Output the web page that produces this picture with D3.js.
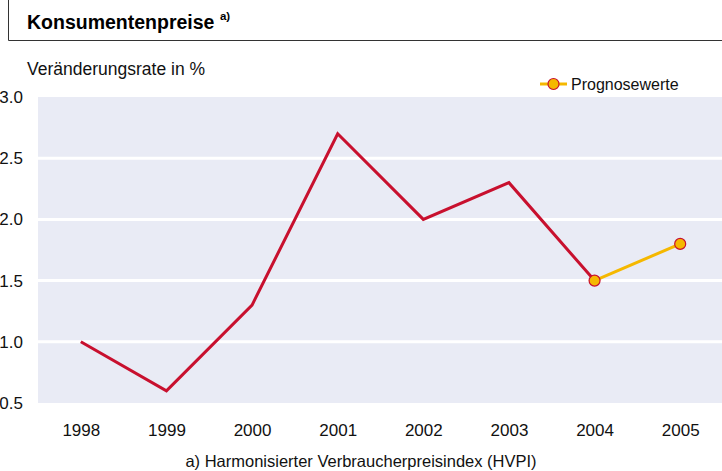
<!DOCTYPE html>
<html>
<head>
<meta charset="utf-8">
<script src="https://cdn.jsdelivr.net/npm/d3@7"></script>
<style>
  html, body { margin: 0; padding: 0; background: #fff; }
  svg { display: block; }
</style>
</head>
<body>
<svg id="chart" width="722" height="471"></svg>
<script>
// Consumer prices (HICP), annual rate of change in %
const years = ["1998", "1999", "2000", "2001", "2002", "2003", "2004", "2005"];
const actualYears = ["1998", "1999", "2000", "2001", "2002", "2003", "2004"];
const actualValues = [1.0, 0.6, 1.3, 2.7, 2.0, 2.3, 1.5];
const forecastYears = ["2004", "2005"];
const forecastValues = [1.5, 1.8];
const yTicks = [0.5, 1.0, 1.5, 2.0, 2.5, 3.0];

const svg = d3.select("#chart");
const W = 722, H = 471;
const plot = { left: 38, right: 722, top: 97, bottom: 403 };

const x = d3.scalePoint().domain(years).range([plot.left, plot.right + 1]).padding(0.5);
const y = d3.scaleLinear().domain([0.5, 3.0]).range([plot.bottom, plot.top]);

const red = "#c8102e";
const gold = "#f5b800";
const font = "'Liberation Sans', Arial, sans-serif";

// Title box
svg.append("path")
  .attr("d", `M8.5,0 V40.5 H${W}`)
  .attr("fill", "none").attr("stroke", "#333").attr("stroke-width", 1);
const title = svg.append("text")
  .attr("x", 27).attr("y", 29)
  .attr("font-family", font).attr("font-weight", "bold").attr("font-size", 19.5)
  .attr("fill", "#000");
title.append("tspan").text("Konsumentenpreise ");
title.append("tspan").attr("font-size", 11.5).attr("dy", -9).text("a)");

// Axis caption
svg.append("text")
  .attr("x", 27).attr("y", 75)
  .attr("font-family", font).attr("font-size", 17.5).attr("fill", "#111")
  .text("Veränderungsrate in %");

// Plot background
svg.append("rect")
  .attr("x", plot.left).attr("y", plot.top)
  .attr("width", plot.right - plot.left).attr("height", plot.bottom - plot.top)
  .attr("fill", "#e9ebf5");

// Horizontal gridlines
svg.append("g").selectAll("line")
  .data(yTicks.filter(d => d > 0.5 && d < 3.0))
  .join("line")
  .attr("x1", plot.left).attr("x2", plot.right)
  .attr("y1", d => y(d)).attr("y2", d => y(d))
  .attr("stroke", "#fff").attr("stroke-width", 3);

// Y axis labels
const yAxis = d3.axisLeft(y).tickValues(yTicks).tickFormat(d3.format(".1f")).tickSize(0).tickPadding(0);
svg.append("g")
  .attr("transform", "translate(23,0)")
  .call(yAxis)
  .call(g => g.select(".domain").remove())
  .call(g => g.selectAll("text")
    .attr("font-family", font).attr("font-size", 17).attr("fill", "#111"));

// X axis labels
const xAxis = d3.axisBottom(x).tickSize(0).tickPadding(0);
svg.append("g")
  .attr("transform", "translate(0,424)")
  .call(xAxis)
  .call(g => g.select(".domain").remove())
  .call(g => g.selectAll("text")
    .attr("font-family", font).attr("font-size", 17).attr("fill", "#111"));

// Lines
const line = d3.line().x(d => x(d[0])).y(d => y(d[1]));
const actual = actualYears.map((yr, i) => [yr, actualValues[i]]);
const forecast = forecastYears.map((yr, i) => [yr, forecastValues[i]]);

svg.append("path").datum(actual)
  .attr("d", line).attr("fill", "none")
  .attr("stroke", red).attr("stroke-width", 3).attr("stroke-linejoin", "miter");

svg.append("path").datum(forecast)
  .attr("d", line).attr("fill", "none")
  .attr("stroke", gold).attr("stroke-width", 3);

svg.append("g").selectAll("circle")
  .data(forecast)
  .join("circle")
  .attr("cx", d => x(d[0])).attr("cy", d => y(d[1]))
  .attr("r", 5.5)
  .attr("fill", gold).attr("stroke", red).attr("stroke-width", 1.2);

// Legend
const lg = svg.append("g").attr("transform", "translate(540,84)");
lg.append("line").attr("x1", 0).attr("x2", 27).attr("y1", 0).attr("y2", 0)
  .attr("stroke", gold).attr("stroke-width", 3);
lg.append("circle").attr("cx", 13.5).attr("cy", 0).attr("r", 5.5)
  .attr("fill", gold).attr("stroke", red).attr("stroke-width", 1.2);
lg.append("text").attr("x", 31).attr("y", 5.5)
  .attr("font-family", font).attr("font-size", 16).attr("fill", "#111")
  .text("Prognosewerte");

// Footnote
svg.append("text")
  .attr("x", 361).attr("y", 467).attr("text-anchor", "middle")
  .attr("font-family", font).attr("font-size", 16.5).attr("fill", "#111")
  .text("a) Harmonisierter Verbraucherpreisindex (HVPI)");
</script>
</body>
</html>
